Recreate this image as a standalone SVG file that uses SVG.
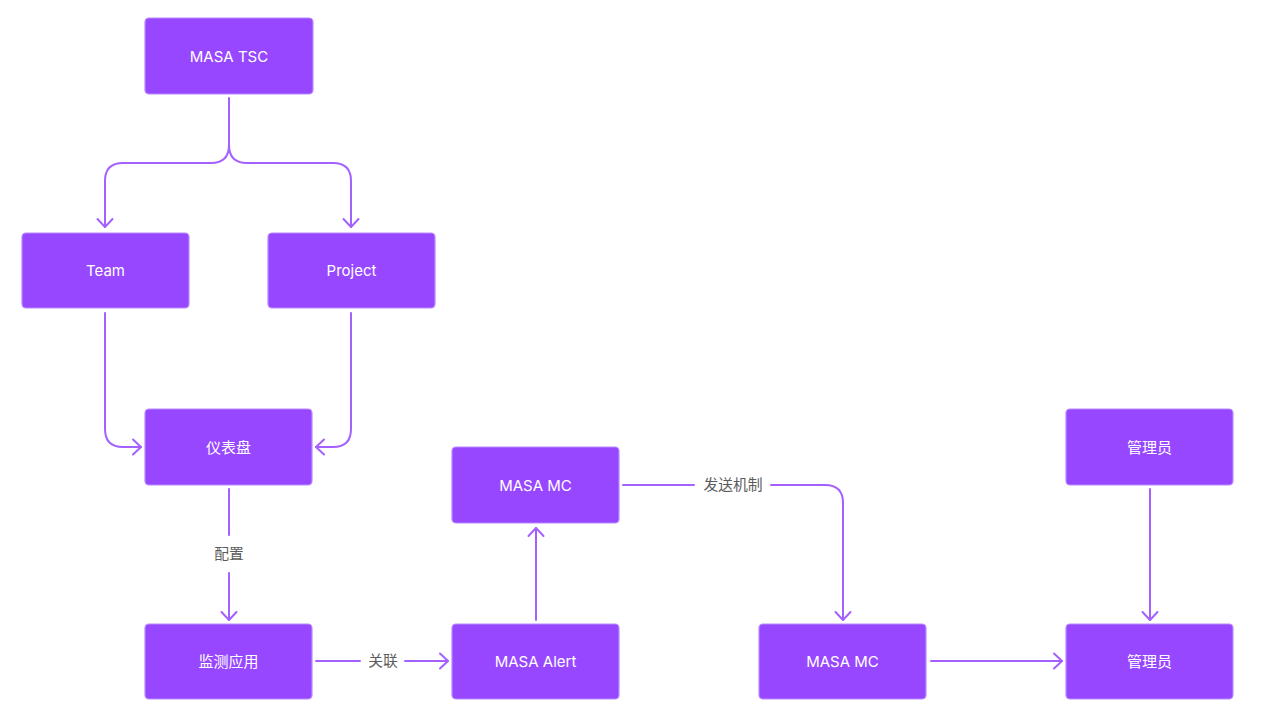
<svg xmlns="http://www.w3.org/2000/svg" width="1269" height="722" viewBox="0 0 1269 722">
<style>
.node rect{fill:#9747FF;stroke:#B98AFF;stroke-width:1.2}
.node text{fill:#FFFFFF;font-family:"Inter","Noto Sans CJK SC",sans-serif;font-size:15px;text-anchor:middle;dominant-baseline:central}
.conn path{fill:none;stroke:#A461FF;stroke-width:2;stroke-linecap:round}
.lbl{fill:#5C5C5C;font-family:"Inter","Noto Sans CJK SC",sans-serif;font-size:14.8px;text-anchor:middle;dominant-baseline:central}
</style>
<defs>
<marker id="arr" viewBox="0 0 12 18" refX="10" refY="9" markerWidth="12" markerHeight="18" markerUnits="userSpaceOnUse" orient="auto">
<path d="M2,1.5 L10,9 L2,16.5" fill="none" stroke="#A461FF" stroke-width="2" stroke-linecap="round" stroke-linejoin="round"/>
</marker>
</defs>
<rect width="1269" height="722" fill="#FFFFFF"/>
<g class="conn">
<path d="M229 98 V145 Q229 163 211 163 H123 Q105 163 105 181 V227" marker-end="url(#arr)"/>
<path d="M229 145 Q229 163 247 163 H333 Q351 163 351 181 V227" marker-end="url(#arr)"/>
<path d="M105 313 V429 Q105 447 123 447 H141" marker-end="url(#arr)"/>
<path d="M351 313 V429 Q351 447 333 447 H316" marker-end="url(#arr)"/>
<path d="M229 489 V535"/>
<path d="M229 573 V620" marker-end="url(#arr)"/>
<path d="M316 661 H360"/>
<path d="M405 661 H448" marker-end="url(#arr)"/>
<path d="M536 620 V528" marker-end="url(#arr)"/>
<path d="M623 485 H694"/>
<path d="M771 485 H825 Q843 485 843 503 V620" marker-end="url(#arr)"/>
<path d="M931 661 H1062" marker-end="url(#arr)"/>
<path d="M1150 489 V620" marker-end="url(#arr)"/>
<text class="lbl" x="229" y="554">配置</text>
<text class="lbl" x="383" y="661">关联</text>
<text class="lbl" x="733" y="485">发送机制</text>
</g>
<g id="n-tsc" class="node"><rect x="145" y="18" width="168" height="76" rx="4"/><text x="229" y="56">MASA TSC</text></g>
<g id="n-team" class="node"><rect x="22" y="233" width="167" height="75" rx="4"/><text x="105.5" y="270.5">Team</text></g>
<g id="n-project" class="node"><rect x="268" y="233" width="167" height="75" rx="4"/><text x="351.5" y="270.5">Project</text></g>
<g id="n-dashboard" class="node"><rect x="145" y="409" width="167" height="76" rx="4"/><text x="228.5" y="447">仪表盘</text></g>
<g id="n-monitor" class="node"><rect x="145" y="624" width="167" height="75" rx="4"/><text x="228.5" y="661.5">监测应用</text></g>
<g id="n-alert" class="node"><rect x="452" y="624" width="167" height="75" rx="4"/><text x="535.5" y="661.5">MASA Alert</text></g>
<g id="n-mc1" class="node"><rect x="452" y="447" width="167" height="76" rx="4"/><text x="535.5" y="485">MASA MC</text></g>
<g id="n-mc2" class="node"><rect x="759" y="624" width="167" height="75" rx="4"/><text x="842.5" y="661.5">MASA MC</text></g>
<g id="n-admin1" class="node"><rect x="1066" y="409" width="167" height="76" rx="4"/><text x="1149.5" y="447">管理员</text></g>
<g id="n-admin2" class="node"><rect x="1066" y="624" width="167" height="75" rx="4"/><text x="1149.5" y="661.5">管理员</text></g>
</svg>
